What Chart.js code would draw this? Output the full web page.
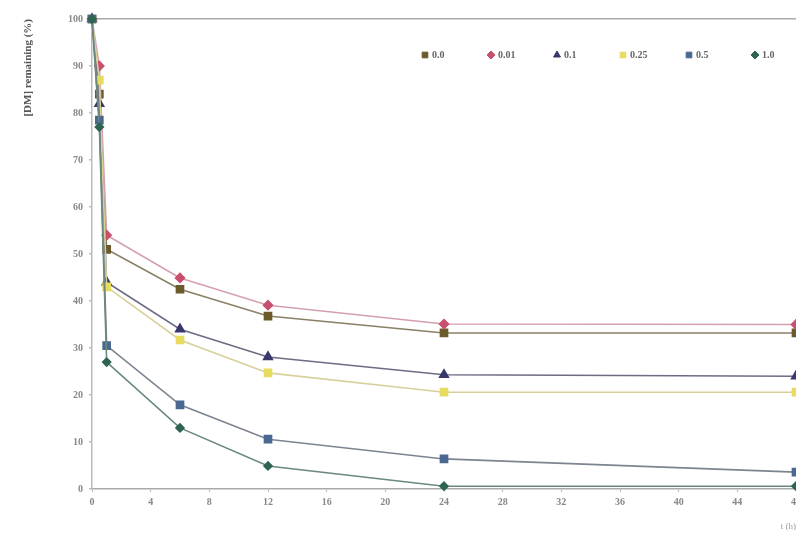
<!DOCTYPE html>
<html>
<head>
<meta charset="utf-8">
<script src="https://cdn.jsdelivr.net/npm/chart.js@4/dist/chart.umd.min.js"></script>
<style>
  html, body { margin: 0; padding: 0; background: #fff; overflow: hidden; }
  #wrap { width: 822px; height: 536px; position: relative; }
</style>
</head>
<body>
<div id="wrap"><canvas id="c" width="822" height="536"></canvas></div>
<script>
// sampling times (h)
const times = [0, 0.5, 1, 6, 12, 24, 48];
// series labels (concentration)
const seriesNames = ['0.0', '0.01', '0.1', '0.25', '0.5', '1.0'];
// DM remaining (%) per series
const s00  = [100, 84, 51, 42.5, 36.8, 33.2, 33.2];
const s001 = [100, 90, 54, 44.9, 39.1, 35.1, 35.0];
const s01  = [100, 82, 44, 34.0, 28.1, 24.3, 24.0];
const s025 = [100, 87, 43, 31.7, 24.7, 20.6, 20.6];
const s05  = [100, 78.5, 30.5, 17.9, 10.6, 6.4, 3.6];
const s10  = [100, 77, 27, 13.0, 4.9, 0.6, 0.6];
const xTicks = [0, 4, 8, 12, 16, 20, 24, 28, 32, 36, 40, 44, 48];
const yTicks = [0, 10, 20, 30, 40, 50, 60, 70, 80, 90, 100];

const values = [s00, s001, s01, s025, s05, s10];
const looks = [
  { line: '#8a8066', point: '#6b5a2c', style: 'rect',     r: 5 },
  { line: '#d4a0ae', point: '#c8506e', style: 'rectRot',  r: 4.5 },
  { line: '#6c6c84', point: '#38386c', style: 'triangle', r: 5 },
  { line: '#d8d09a', point: '#e8dc60', style: 'rect',     r: 5 },
  { line: '#7c8490', point: '#4a6890', style: 'rect',     r: 5 },
  { line: '#6a8a7c', point: '#2e6450', style: 'rectRot',  r: 4 }
];

const datasets = values.map((vals, i) => ({
  label: seriesNames[i],
  data: times.map((t, k) => ({ x: t, y: vals[k] })),
  borderColor: looks[i].line,
  backgroundColor: looks[i].point,
  pointBackgroundColor: looks[i].point,
  pointBorderColor: looks[i].point,
  pointStyle: looks[i].style,
  pointRadius: looks[i].r,
  borderWidth: 1.6,
  tension: 0,
  clip: false,
  order: values.length - i
}));

// horizontal legend row drawn inside the plot, near the top right
const insideLegend = {
  id: 'insideLegend',
  afterDraw(chart) {
    const { ctx, chartArea } = chart;
    const step = 66;
    const y = chartArea.top + 36;
    let x = chartArea.right - 371;
    ctx.save();
    ctx.font = 'bold 10px "Liberation Serif"';
    ctx.textBaseline = 'middle';
    chart.data.datasets.forEach((ds) => {
      ctx.fillStyle = ds.pointBackgroundColor;
      ctx.strokeStyle = ds.pointBorderColor;
      ctx.lineWidth = 1;
      Chart.helpers.drawPoint(ctx, { pointStyle: ds.pointStyle, radius: 4, borderWidth: 1 }, x, y);
      ctx.fillStyle = '#666';
      ctx.fillText(ds.label, x + 7, y);
      x += step;
    });
    ctx.restore();
  }
};

const tickFont = { family: 'Liberation Serif', size: 10, weight: 'bold' };

new Chart(document.getElementById('c'), {
  type: 'line',
  data: { datasets },
  plugins: [insideLegend],
  options: {
    responsive: false,
    animation: false,
    layout: { padding: { left: 18, top: 19, right: 26, bottom: 0 } },
    plugins: {
      tooltip: { enabled: false },
      legend: { display: false }
    },
    scales: {
      x: {
        type: 'linear',
        min: 0, max: 48,
        afterBuildTicks: s => { s.ticks = xTicks.map(v => ({ value: v })); },
        afterFit: s => { s.height = 47; },
        ticks: { color: '#888', font: tickFont, padding: 4 },
        grid: { display: true, drawOnChartArea: false, tickLength: 3, color: '#bbb' },
        border: { color: '#aaa', width: 1.5 },
        title: {
          display: true, text: 't (h)', align: 'end',
          color: '#999', font: { family: 'Liberation Serif', size: 9 },
          padding: { top: 6 }
        }
      },
      y: {
        min: 0, max: 100,
        afterBuildTicks: s => { s.ticks = yTicks.map(v => ({ value: v })); },
        afterFit: s => { s.width = 74; },
        ticks: { color: '#888', font: tickFont, padding: 6 },
        grid: {
          drawOnChartArea: true,
          tickLength: 3,
          color: ctx => (ctx.tick && ctx.tick.value === 100 ? '#aaa' : 'rgba(0,0,0,0)'),
          tickColor: '#bbb',
          lineWidth: 1.5
        },
        border: { color: '#bbb', width: 1.5 },
        title: {
          display: true, text: '[DM] remaining (%)', align: 'end',
          color: '#555', font: { family: 'Liberation Serif', size: 11, weight: 'bold' },
          padding: { bottom: 12 }
        }
      }
    }
  }
});
</script>
</body>
</html>
